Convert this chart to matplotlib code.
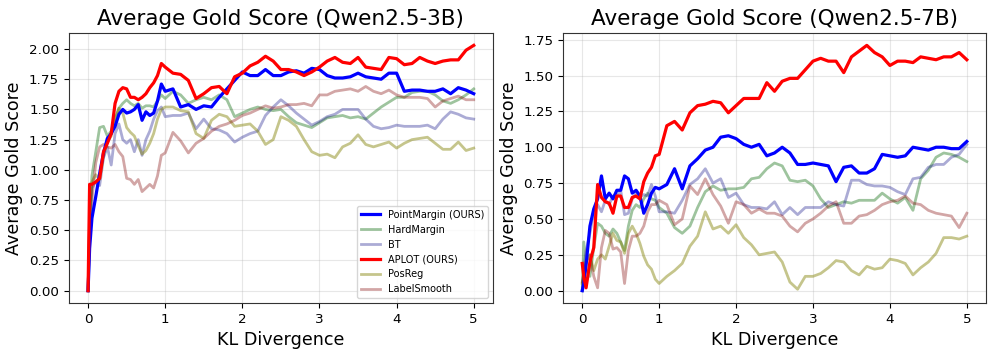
import numpy as np
import matplotlib
matplotlib.use("Agg")
import matplotlib.pyplot as plt

# KL divergence sample points (shared by every series)
kl = [0, 0.02, 0.05, 0.1, 0.15, 0.2, 0.25, 0.3, 0.35, 0.4, 0.45, 0.5, 0.55, 0.6, 0.65,
      0.7, 0.75, 0.8, 0.85, 0.9, 0.95, 1.0, 1.1, 1.2, 1.3, 1.4, 1.5, 1.6, 1.7, 1.8, 1.9,
      2.0, 2.1, 2.2, 2.3, 2.4, 2.5, 2.6, 2.7, 2.8, 2.9, 3.0, 3.1, 3.2, 3.3, 3.4, 3.5,
      3.6, 3.7, 3.8, 3.9, 4.0, 4.1, 4.2, 4.3, 4.4, 4.5, 4.6, 4.7, 4.8, 4.9, 5.0]

methods = ["PointMargin (OURS)", "HardMargin", "BT", "APLOT (OURS)", "PosReg", "LabelSmooth"]

# ---- Qwen2.5-3B ----
pm_3b = [0.0, 0.35, 0.6, 0.78, 0.97, 1.14, 1.26, 1.30, 1.36, 1.46, 1.50, 1.47, 1.48, 1.50, 1.54,
         1.41, 1.48, 1.45, 1.47, 1.57, 1.71, 1.65, 1.67, 1.52, 1.54, 1.50, 1.53, 1.52, 1.60, 1.67, 1.74,
         1.81, 1.78, 1.78, 1.83, 1.78, 1.78, 1.81, 1.82, 1.80, 1.84, 1.83, 1.78, 1.76, 1.76, 1.77, 1.80,
         1.77, 1.76, 1.75, 1.80, 1.80, 1.65, 1.66, 1.66, 1.65, 1.65, 1.67, 1.63, 1.68, 1.66, 1.63]
hm_3b = [0.0, 0.6, 0.95, 1.15, 1.35, 1.36, 1.28, 1.32, 1.42, 1.51, 1.55, 1.58, 1.55, 1.53, 1.55,
         1.51, 1.53, 1.53, 1.52, 1.57, 1.62, 1.59, 1.65, 1.62, 1.55, 1.58, 1.60, 1.58, 1.62, 1.58, 1.44,
         1.47, 1.50, 1.52, 1.50, 1.49, 1.50, 1.44, 1.39, 1.37, 1.35, 1.39, 1.43, 1.44, 1.45, 1.43, 1.44,
         1.42, 1.47, 1.52, 1.56, 1.60, 1.60, 1.64, 1.65, 1.65, 1.62, 1.57, 1.55, 1.58, 1.62, 1.67]
bt_3b = [0.0, 0.5, 0.85, 0.90, 0.87, 1.10, 1.19, 1.04, 1.30, 1.38, 1.25, 1.22, 1.25, 1.15, 1.25,
         1.12, 1.25, 1.32, 1.42, 1.49, 1.52, 1.44, 1.45, 1.45, 1.47, 1.34, 1.42, 1.34, 1.33, 1.30, 1.23,
         1.27, 1.30, 1.32, 1.45, 1.52, 1.58, 1.53, 1.47, 1.42, 1.37, 1.40, 1.44, 1.46, 1.50, 1.50, 1.50,
         1.42, 1.36, 1.34, 1.35, 1.37, 1.36, 1.36, 1.36, 1.37, 1.34, 1.42, 1.48, 1.46, 1.43, 1.42]
aplot_3b = [0.0, 0.88, 0.88, 0.90, 0.93, 1.15, 1.22, 1.30, 1.55, 1.65, 1.68, 1.67, 1.60, 1.60, 1.58,
            1.60, 1.63, 1.68, 1.72, 1.78, 1.88, 1.85, 1.80, 1.79, 1.74, 1.59, 1.63, 1.68, 1.69, 1.63, 1.77,
            1.80, 1.86, 1.89, 1.94, 1.90, 1.83, 1.83, 1.81, 1.78, 1.81, 1.85, 1.90, 1.93, 1.89, 1.88, 1.93,
            1.85, 1.84, 1.83, 1.93, 1.92, 1.87, 1.88, 1.93, 1.90, 1.88, 1.90, 1.91, 1.91, 1.99, 2.03]
pr_3b = [0.0, 0.6, 0.9, 0.96, 0.92, 1.11, 1.23, 1.28, 1.42, 1.51, 1.47, 1.35, 1.31, 1.28, 1.20,
         1.13, 1.16, 1.22, 1.30, 1.42, 1.50, 1.52, 1.52, 1.49, 1.48, 1.30, 1.26, 1.41, 1.46, 1.44, 1.36,
         1.37, 1.38, 1.32, 1.21, 1.25, 1.44, 1.41, 1.36, 1.25, 1.15, 1.12, 1.13, 1.10, 1.19, 1.22, 1.29,
         1.21, 1.19, 1.21, 1.23, 1.18, 1.22, 1.25, 1.26, 1.27, 1.22, 1.17, 1.17, 1.23, 1.16, 1.18]
ls_3b = [0.0, 0.4, 0.75, 1.06, 1.19, 1.21, 1.19, 1.18, 1.21, 1.15, 1.11, 0.93, 0.92, 0.88, 0.92,
         0.82, 0.85, 0.88, 0.85, 0.95, 1.12, 1.14, 1.31, 1.24, 1.14, 1.22, 1.26, 1.32, 1.36, 1.38, 1.41,
         1.45, 1.47, 1.50, 1.53, 1.51, 1.52, 1.54, 1.54, 1.55, 1.53, 1.62, 1.62, 1.65, 1.66, 1.67, 1.65,
         1.69, 1.65, 1.63, 1.66, 1.62, 1.60, 1.60, 1.60, 1.59, 1.52, 1.57, 1.59, 1.61, 1.58, 1.58]

# ---- Qwen2.5-7B ----
pm_7b = [0.0, 0.05, 0.18, 0.45, 0.57, 0.64, 0.80, 0.64, 0.68, 0.64, 0.70, 0.70, 0.80, 0.78, 0.68,
         0.70, 0.66, 0.54, 0.60, 0.68, 0.72, 0.71, 0.74, 0.85, 0.71, 0.87, 0.92, 0.98, 1.00, 1.07, 1.08,
         1.06, 1.02, 1.00, 1.02, 0.94, 0.96, 1.00, 0.96, 0.88, 0.88, 0.89, 0.88, 0.87, 0.76, 0.86, 0.87,
         0.82, 0.82, 0.85, 0.95, 0.94, 0.93, 0.94, 1.00, 0.99, 0.98, 1.00, 1.00, 0.99, 0.99, 1.04]
hm_7b = [0.0, 0.34, 0.15, 0.10, 0.30, 0.47, 0.45, 0.40, 0.38, 0.43, 0.40, 0.34, 0.28, 0.45, 0.56,
         0.60, 0.58, 0.64, 0.68, 0.64, 0.63, 0.58, 0.54, 0.44, 0.40, 0.45, 0.58, 0.69, 0.73, 0.70, 0.71,
         0.71, 0.72, 0.78, 0.79, 0.85, 0.89, 0.87, 0.77, 0.76, 0.77, 0.73, 0.64, 0.58, 0.60, 0.62, 0.61,
         0.63, 0.63, 0.63, 0.68, 0.64, 0.61, 0.65, 0.56, 0.78, 0.84, 0.93, 0.96, 0.95, 0.93, 0.90]
bt_7b = [0.0, 0.15, 0.28, 0.40, 0.55, 0.60, 0.55, 0.63, 0.60, 0.66, 0.66, 0.70, 0.53, 0.54, 0.64,
         0.68, 0.65, 0.67, 0.66, 0.74, 0.66, 0.55, 0.55, 0.54, 0.63, 0.74, 0.78, 0.85, 0.75, 0.78, 0.65,
         0.68, 0.60, 0.58, 0.58, 0.57, 0.62, 0.53, 0.58, 0.53, 0.58, 0.58, 0.58, 0.62, 0.60, 0.59, 0.77,
         0.77, 0.74, 0.73, 0.73, 0.72, 0.69, 0.67, 0.78, 0.79, 0.86, 0.88, 0.88, 0.93, 0.95, 1.02]
aplot_7b = [0.19, 0.10, 0.02, 0.20, 0.30, 0.74, 0.65, 0.62, 0.61, 0.54, 0.66, 0.66, 0.58, 0.58, 0.65,
            0.66, 0.64, 0.76, 0.82, 0.86, 0.94, 0.95, 1.15, 1.18, 1.12, 1.24, 1.29, 1.30, 1.32, 1.31, 1.24,
            1.29, 1.34, 1.34, 1.34, 1.45, 1.39, 1.46, 1.48, 1.48, 1.54, 1.60, 1.62, 1.60, 1.60, 1.52, 1.63,
            1.67, 1.71, 1.66, 1.63, 1.57, 1.60, 1.60, 1.59, 1.63, 1.62, 1.61, 1.63, 1.63, 1.66, 1.61]
pr_7b = [0.05, 0.10, 0.20, 0.25, 0.14, 0.22, 0.25, 0.22, 0.31, 0.40, 0.35, 0.34, 0.26, 0.40, 0.45,
         0.40, 0.33, 0.24, 0.18, 0.15, 0.08, 0.05, 0.10, 0.14, 0.19, 0.31, 0.38, 0.55, 0.43, 0.45, 0.40,
         0.46, 0.37, 0.32, 0.25, 0.26, 0.27, 0.20, 0.06, 0.01, 0.10, 0.10, 0.12, 0.16, 0.21, 0.20, 0.14,
         0.11, 0.17, 0.15, 0.16, 0.22, 0.21, 0.19, 0.11, 0.16, 0.20, 0.26, 0.37, 0.37, 0.36, 0.38]
ls_7b = [0.06, 0.12, 0.20, 0.25, 0.10, 0.02, 0.30, 0.42, 0.40, 0.29, 0.30, 0.27, 0.05, 0.28, 0.38,
         0.38, 0.40, 0.45, 0.55, 0.60, 0.60, 0.63, 0.60, 0.46, 0.50, 0.73, 0.67, 0.78, 0.67, 0.59, 0.47,
         0.62, 0.60, 0.54, 0.57, 0.54, 0.54, 0.52, 0.45, 0.41, 0.47, 0.50, 0.54, 0.59, 0.62, 0.47, 0.47,
         0.52, 0.53, 0.56, 0.60, 0.62, 0.63, 0.66, 0.61, 0.60, 0.56, 0.54, 0.53, 0.52, 0.44, 0.54]

styles = [
    dict(color="blue", lw=2.3, alpha=1.0, zorder=3),
    dict(color="darkgreen", lw=2.0, alpha=0.38, zorder=2),
    dict(color="navy", lw=2.0, alpha=0.33, zorder=2),
    dict(color="red", lw=2.3, alpha=1.0, zorder=3),
    dict(color="olive", lw=2.0, alpha=0.45, zorder=2),
    dict(color="maroon", lw=2.0, alpha=0.35, zorder=2),
]

panels = [
    ("Average Gold Score (Qwen2.5-3B)", [pm_3b, hm_3b, bt_3b, aplot_3b, pr_3b, ls_3b]),
    ("Average Gold Score (Qwen2.5-7B)", [pm_7b, hm_7b, bt_7b, aplot_7b, pr_7b, ls_7b]),
]

fig = plt.figure(figsize=(9.97, 3.56), dpi=100)
positions = [[0.069, 0.149, 0.4255, 0.758], [0.5647, 0.149, 0.4243, 0.758]]

for i, (title, series) in enumerate(panels):
    ax = fig.add_axes(positions[i])
    for name, ys, st in zip(methods, series, styles):
        ax.plot(kl, ys, label=name, **st)
    ax.set_title(title, fontsize=15.5)
    ax.set_xlabel("KL Divergence", fontsize=12.6)
    ax.set_ylabel("Average Gold Score", fontsize=12.6)
    ax.tick_params(labelsize=9.7)
    ax.grid(True, alpha=0.3)
    for sp in ax.spines.values():
        sp.set_color("#333333")
    if i == 0:
        ax.legend(loc="lower right", fontsize=7)

fig.savefig("out.png", dpi=100)
